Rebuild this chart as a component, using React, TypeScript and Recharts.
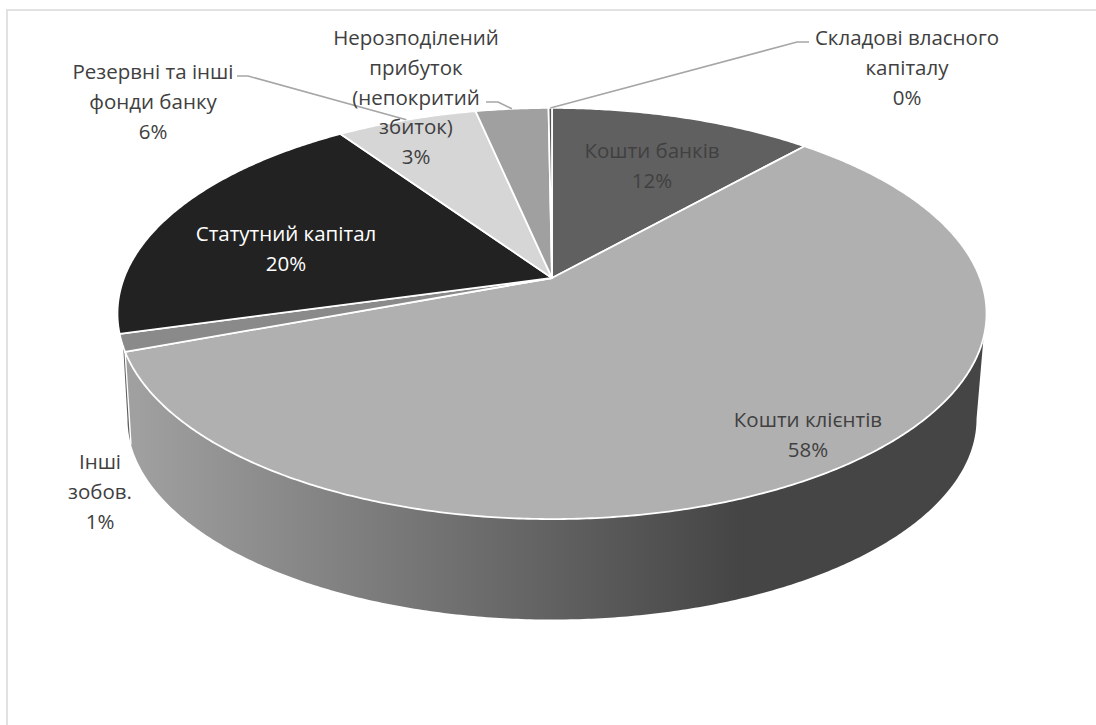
import React from "react";
import { PieChart, Pie, Cell } from "recharts";

// Structure of the bank's liabilities and equity, in per cent of the total.
const categories = [
  "Кошти банків",
  "Кошти клієнтів",
  "Інші зобов.",
  "Статутний капітал",
  "Резервні та інші фонди банку",
  "Нерозподілений прибуток (непокритий збиток)",
  "Складові власного капіталу",
];
const shares = [11.6, 57.75, 1.36, 19.75, 6.2, 3.2, 0.15];
const topColors = ["#606060", "#b0b0b0", "#8a8a8a", "#222222", "#d6d6d6", "#a0a0a0", "#555555"];
const wallColors = ["#606060", "url(#clientWall)", "#5e5e5e", "#222222", "#d6d6d6", "#a0a0a0", "#555555"];

const pieData = categories.map((name, i) => ({ name, value: shares[i] }));

// Wrapped caption of each slice; the percentage is appended below it.
const captionLines = [
  ["Кошти банків"],
  ["Кошти клієнтів"],
  ["Інші", "зобов."],
  ["Статутний капітал"],
  ["Резервні та інші", "фонди банку"],
  ["Нерозподілений", "прибуток", "(непокритий", "збиток)"],
  ["Складові власного", "капіталу"],
];
const captionCentre = [
  [652, 150],
  [808, 419],
  [100, 461],
  [286, 233],
  [153, 71],
  [416, 37],
  [907, 37],
];
const captionColor = ["#404040", "#404040", "#404040", "#ffffff", "#404040", "#404040", "#404040"];
// Elbow of the leader line, from the caption side towards the rim.
const leaderStart: (number[][] | null)[] = [
  null,
  null,
  null,
  null,
  [[237, 76], [248, 76]],
  [[486, 102], [498, 102]],
  [[809, 42], [797, 42]],
];

const WIDTH = 1096;
const HEIGHT = 725;
const CX = 552;
const CY = 278;
const RADIUS = 428;
const FONT = "'Open Sans', sans-serif";
const FONT_SIZE = 20.5;
const LINE_STEP = 29.8;

// Perspective of the tilted disc: depth foreshortening and convergence.
const SQUASH = 0.466;
const CONVERGE = 0.1727;
// The lower rim is a slightly smaller copy of the upper one.
const FOOT_SCALE = 0.977;
const FOOT_DROP = 106;
// Part of the side wall that faces the viewer, in clockwise pie degrees.
const WALL_FROM = -16.5;
const WALL_TO = -161;
const FOOT_KNOTS = [
  [-16.5, -10],
  [-159.6, -162.7],
  [-161, -170],
];

const toRad = (deg: number) => (deg * Math.PI) / 180;

function project(deg: number, r: number, cx: number, cy: number, scale = 1, drop = 0) {
  const s = Math.sin(toRad(deg));
  const c = Math.cos(toRad(deg));
  const w = 1 + CONVERGE * s;
  return {
    x: cx + (scale * r * c) / w,
    y: cy + drop - (scale * r * SQUASH * s) / w,
  };
}

function arcPoints(from: number, to: number, r: number, cx: number, cy: number, scale = 1, drop = 0) {
  const steps = Math.max(2, Math.ceil(Math.abs(to - from) / 0.5));
  const pts: string[] = [];
  for (let i = 0; i <= steps; i++) {
    const p = project(from + ((to - from) * i) / steps, r, cx, cy, scale, drop);
    pts.push(`${p.x.toFixed(2)} ${p.y.toFixed(2)}`);
  }
  return pts;
}

function footAngle(deg: number) {
  for (let i = 1; i < FOOT_KNOTS.length; i++) {
    const [a0, b0] = FOOT_KNOTS[i - 1];
    const [a1, b1] = FOOT_KNOTS[i];
    if (deg >= a1) return b0 + ((deg - a0) / (a1 - a0)) * (b1 - b0);
  }
  return FOOT_KNOTS[FOOT_KNOTS.length - 1][1];
}

function TopSlice(props: any) {
  const { cx, cy, outerRadius, startAngle, endAngle, fill } = props;
  const pts = arcPoints(startAngle, endAngle, outerRadius, cx, cy);
  const d = `M${cx} ${cy}L${pts.join("L")}Z`;
  return <path d={d} fill={fill} stroke="#ffffff" strokeWidth={1.8} strokeLinejoin="round" />;
}

function WallSlice(props: any) {
  const { cx, cy, outerRadius, startAngle, endAngle, fill } = props;
  const from = Math.min(startAngle, WALL_FROM);
  const to = Math.max(endAngle, WALL_TO);
  if (from <= to) return <g />;
  const upper = arcPoints(from, to, outerRadius, cx, cy);
  const lower = arcPoints(footAngle(to), footAngle(from), outerRadius, cx, cy, FOOT_SCALE, FOOT_DROP);
  const d = `M${upper.join("L")}L${lower.join("L")}Z`;
  // A wall segment that begins inside the visible range is parted from its neighbour by a white seam.
  const seam =
    startAngle < WALL_FROM ? (
      <path d={`M${upper[0]}L${lower[lower.length - 1]}`} fill="none" stroke="#ffffff" strokeWidth={1.4} />
    ) : null;
  return (
    <g>
      <path d={d} fill={fill} stroke="none" />
      {seam}
    </g>
  );
}

function SliceCaption(props: any) {
  const { index, percent } = props;
  const [x, y] = captionCentre[index];
  const lines = [...captionLines[index], `${Math.round(percent * 100)}%`];
  return (
    <text
      x={x}
      y={y}
      textAnchor="middle"
      dominantBaseline="central"
      fontFamily={FONT}
      fontSize={FONT_SIZE}
      fill={captionColor[index]}
    >
      {lines.map((line, i) => (
        <tspan key={i} x={x} dy={i === 0 ? 0 : LINE_STEP}>
          {line}
        </tspan>
      ))}
    </text>
  );
}

function LeaderLine(props: any) {
  const { index, midAngle, cx, cy, outerRadius } = props;
  const elbow = leaderStart[index];
  if (!elbow) return <g />;
  const rim = project(midAngle, outerRadius, cx, cy);
  const pts = [...elbow, [rim.x, rim.y]].map((p) => p.join(" ")).join("L");
  return <path d={`M${pts}`} fill="none" stroke="#a6a6a6" strokeWidth={1.6} />;
}

export default function App() {
  return (
    <div style={{ position: "absolute", left: 0, top: 0, width: WIDTH, height: HEIGHT, background: "#ffffff", overflow: "hidden" }}>
      <div
        style={{
          position: "absolute",
          left: 6,
          top: 9,
          right: -4,
          bottom: -4,
          border: "2px solid #e2e2e2",
          boxSizing: "border-box",
        }}
      />
      <PieChart width={WIDTH} height={HEIGHT} margin={{ top: 0, right: 0, bottom: 0, left: 0 }}>
        <defs>
          <linearGradient id="clientWall" gradientUnits="userSpaceOnUse" x1={135} y1={0} x2={740} y2={0}>
            <stop offset="0" stopColor="#a0a0a0" />
            <stop offset="1" stopColor="#454545" />
          </linearGradient>
        </defs>
        <Pie
          data={pieData}
          dataKey="value"
          nameKey="name"
          cx={CX}
          cy={CY}
          outerRadius={RADIUS}
          startAngle={90}
          endAngle={-270}
          isAnimationActive={false}
          shape={WallSlice}
          label={false}
          labelLine={false}
          rootTabIndex={-1}
        >
          {pieData.map((d, i) => (
            <Cell key={d.name} fill={wallColors[i]} />
          ))}
        </Pie>
        <Pie
          data={pieData}
          dataKey="value"
          nameKey="name"
          cx={CX}
          cy={CY}
          outerRadius={RADIUS}
          startAngle={90}
          endAngle={-270}
          isAnimationActive={false}
          shape={TopSlice}
          label={SliceCaption}
          labelLine={LeaderLine}
          rootTabIndex={-1}
        >
          {pieData.map((d, i) => (
            <Cell key={d.name} fill={topColors[i]} />
          ))}
        </Pie>
      </PieChart>
    </div>
  );
}
